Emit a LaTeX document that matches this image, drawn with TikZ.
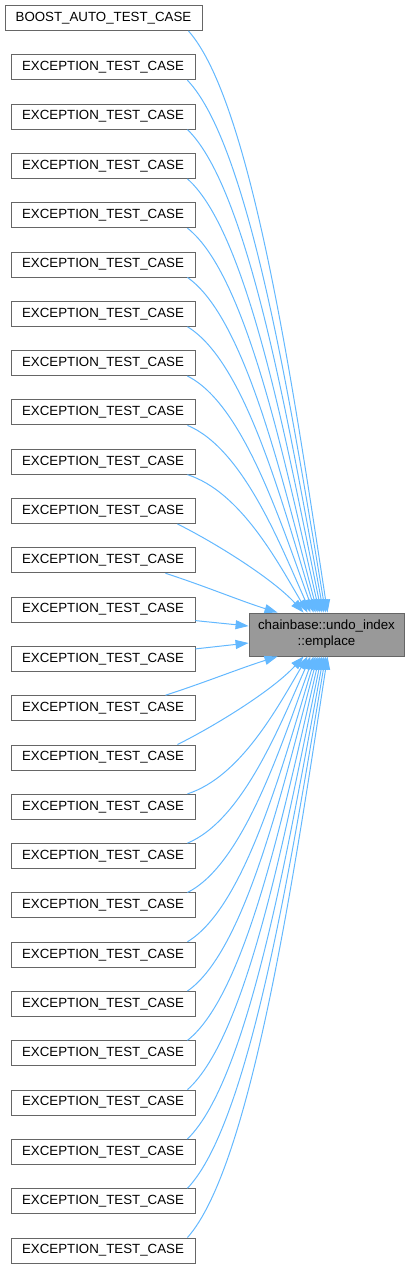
\documentclass[tikz,border=0pt]{standalone}
\usepackage{fontspec}
\setmainfont{Liberation Sans}
\usetikzlibrary{arrows.meta}
\definecolor{edgeblue}{HTML}{63B8FF}
\definecolor{boxgray}{HTML}{666666}
\definecolor{fillgray}{HTML}{999999}
\tikzstyle{caller}=[rectangle,draw=boxgray,line width=0.9pt,fill=white,minimum width=184pt,minimum height=25pt,inner sep=0pt,font=\fontsize{13.3}{16}\selectfont]
\tikzstyle{callee}=[caller,fill=fillgray,minimum width=155pt,minimum height=43pt,align=center]
\tikzstyle{calledge}=[color=edgeblue,line width=1pt,-{Triangle[length=13pt,width=9pt]}]
\begin{document}
\begin{tikzpicture}[x=1pt,y=1pt]
    \useasboundingbox (0,0) rectangle (409,-1270);
    \node[callee] (emplace) at (326.5,-634.5) {chainbase::undo\_index\\::emplace};
    \node[caller,minimum width=197pt] (boost) at (103.5,-18) {BOOST\_AUTO\_TEST\_CASE};
    \node[caller] (exc1)  at (103,-67.3)   {EXCEPTION\_TEST\_CASE};
    \node[caller] (exc2)  at (103,-116.6)  {EXCEPTION\_TEST\_CASE};
    \node[caller] (exc3)  at (103,-165.9)  {EXCEPTION\_TEST\_CASE};
    \node[caller] (exc4)  at (103,-215.2)  {EXCEPTION\_TEST\_CASE};
    \node[caller] (exc5)  at (103,-264.5)  {EXCEPTION\_TEST\_CASE};
    \node[caller] (exc6)  at (103,-313.8)  {EXCEPTION\_TEST\_CASE};
    \node[caller] (exc7)  at (103,-363.1)  {EXCEPTION\_TEST\_CASE};
    \node[caller] (exc8)  at (103,-412.4)  {EXCEPTION\_TEST\_CASE};
    \node[caller] (exc9)  at (103,-461.7)  {EXCEPTION\_TEST\_CASE};
    \node[caller] (exc10) at (103,-511.0)  {EXCEPTION\_TEST\_CASE};
    \node[caller] (exc11) at (103,-560.3)  {EXCEPTION\_TEST\_CASE};
    \node[caller] (exc12) at (103,-609.6)  {EXCEPTION\_TEST\_CASE};
    \node[caller] (exc13) at (103,-658.9)  {EXCEPTION\_TEST\_CASE};
    \node[caller] (exc14) at (103,-708.2)  {EXCEPTION\_TEST\_CASE};
    \node[caller] (exc15) at (103,-757.5)  {EXCEPTION\_TEST\_CASE};
    \node[caller] (exc16) at (103,-806.8)  {EXCEPTION\_TEST\_CASE};
    \node[caller] (exc17) at (103,-856.1)  {EXCEPTION\_TEST\_CASE};
    \node[caller] (exc18) at (103,-905.4)  {EXCEPTION\_TEST\_CASE};
    \node[caller] (exc19) at (103,-954.7)  {EXCEPTION\_TEST\_CASE};
    \node[caller] (exc20) at (103,-1004.0) {EXCEPTION\_TEST\_CASE};
    \node[caller] (exc21) at (103,-1053.3) {EXCEPTION\_TEST\_CASE};
    \node[caller] (exc22) at (103,-1102.6) {EXCEPTION\_TEST\_CASE};
    \node[caller] (exc23) at (103,-1151.9) {EXCEPTION\_TEST\_CASE};
    \node[caller] (exc24) at (103,-1201.2) {EXCEPTION\_TEST\_CASE};
    \node[caller] (exc25) at (103,-1250.5) {EXCEPTION\_TEST\_CASE};

    % callers above the callee
    \draw[calledge] ([xshift=-14pt]boost.south east) .. controls +(64,-72) and +(-33,215) .. ([xshift=79pt]emplace.north west);
    \draw[calledge] ([xshift=-8pt]exc1.south east) .. controls +(63,-66) and +(-33,197) .. ([xshift=77pt]emplace.north west);
    \draw[calledge] ([xshift=-8pt]exc2.south east) .. controls +(62,-60) and +(-33,179) .. ([xshift=75pt]emplace.north west);
    \draw[calledge] ([xshift=-8pt]exc3.south east) .. controls +(61,-54) and +(-33,161) .. ([xshift=73pt]emplace.north west);
    \draw[calledge] ([xshift=-8pt]exc4.south east) .. controls +(60,-47) and +(-33,143) .. ([xshift=71pt]emplace.north west);
    \draw[calledge] ([xshift=-8pt]exc5.south east) .. controls +(59,-41) and +(-33,124) .. ([xshift=69pt]emplace.north west);
    \draw[calledge] ([xshift=-8pt]exc6.south east) .. controls +(58,-35) and +(-32,106) .. ([xshift=67pt]emplace.north west);
    \draw[calledge] ([xshift=-8pt]exc7.south east) .. controls +(56,-28) and +(-32,88) .. ([xshift=65pt]emplace.north west);
    \draw[calledge] ([xshift=-8pt]exc8.south east) .. controls +(55,-23) and +(-31,70) .. ([xshift=62pt]emplace.north west);
    \draw[calledge] ([xshift=-8pt]exc9.south east) .. controls +(53,-17) and +(-30,51) .. ([xshift=59pt]emplace.north west);
    \draw[calledge] ([xshift=-18pt]exc10.south east) .. controls +(40,-20) and +(-30,33) .. ([xshift=55pt]emplace.north west);
    \draw[calledge] ([xshift=-30pt]exc11.south east) .. controls +(40,-13) and +(-38,12) .. ([xshift=29pt]emplace.north west);
    \draw[calledge] ([yshift=-11pt]exc12.east) -- ([yshift=8.5pt]emplace.west);
    % callers below the callee
    \draw[calledge] ([yshift=10pt]exc13.east) -- ([yshift=-8.5pt]emplace.west);
    \draw[calledge] ([xshift=-30pt]exc14.north east) .. controls +(40,13) and +(-38,-12) .. ([xshift=29pt]emplace.south west);
    \draw[calledge] ([xshift=-18pt]exc15.north east) .. controls +(40,20) and +(-30,-33) .. ([xshift=55pt]emplace.south west);
    \draw[calledge] ([xshift=-8pt]exc16.north east) .. controls +(53,17) and +(-30,-51) .. ([xshift=59pt]emplace.south west);
    \draw[calledge] ([xshift=-8pt]exc17.north east) .. controls +(55,23) and +(-31,-70) .. ([xshift=62pt]emplace.south west);
    \draw[calledge] ([xshift=-8pt]exc18.north east) .. controls +(56,28) and +(-32,-88) .. ([xshift=65pt]emplace.south west);
    \draw[calledge] ([xshift=-8pt]exc19.north east) .. controls +(58,35) and +(-32,-106) .. ([xshift=67pt]emplace.south west);
    \draw[calledge] ([xshift=-8pt]exc20.north east) .. controls +(59,41) and +(-33,-124) .. ([xshift=69pt]emplace.south west);
    \draw[calledge] ([xshift=-8pt]exc21.north east) .. controls +(60,47) and +(-33,-143) .. ([xshift=71pt]emplace.south west);
    \draw[calledge] ([xshift=-8pt]exc22.north east) .. controls +(61,54) and +(-33,-161) .. ([xshift=73pt]emplace.south west);
    \draw[calledge] ([xshift=-8pt]exc23.north east) .. controls +(62,60) and +(-33,-179) .. ([xshift=75pt]emplace.south west);
    \draw[calledge] ([xshift=-8pt]exc24.north east) .. controls +(63,66) and +(-33,-197) .. ([xshift=77pt]emplace.south west);
    \draw[calledge] ([xshift=-8pt]exc25.north east) .. controls +(64,72) and +(-33,-215) .. ([xshift=79pt]emplace.south west);
\end{tikzpicture}
\end{document}
